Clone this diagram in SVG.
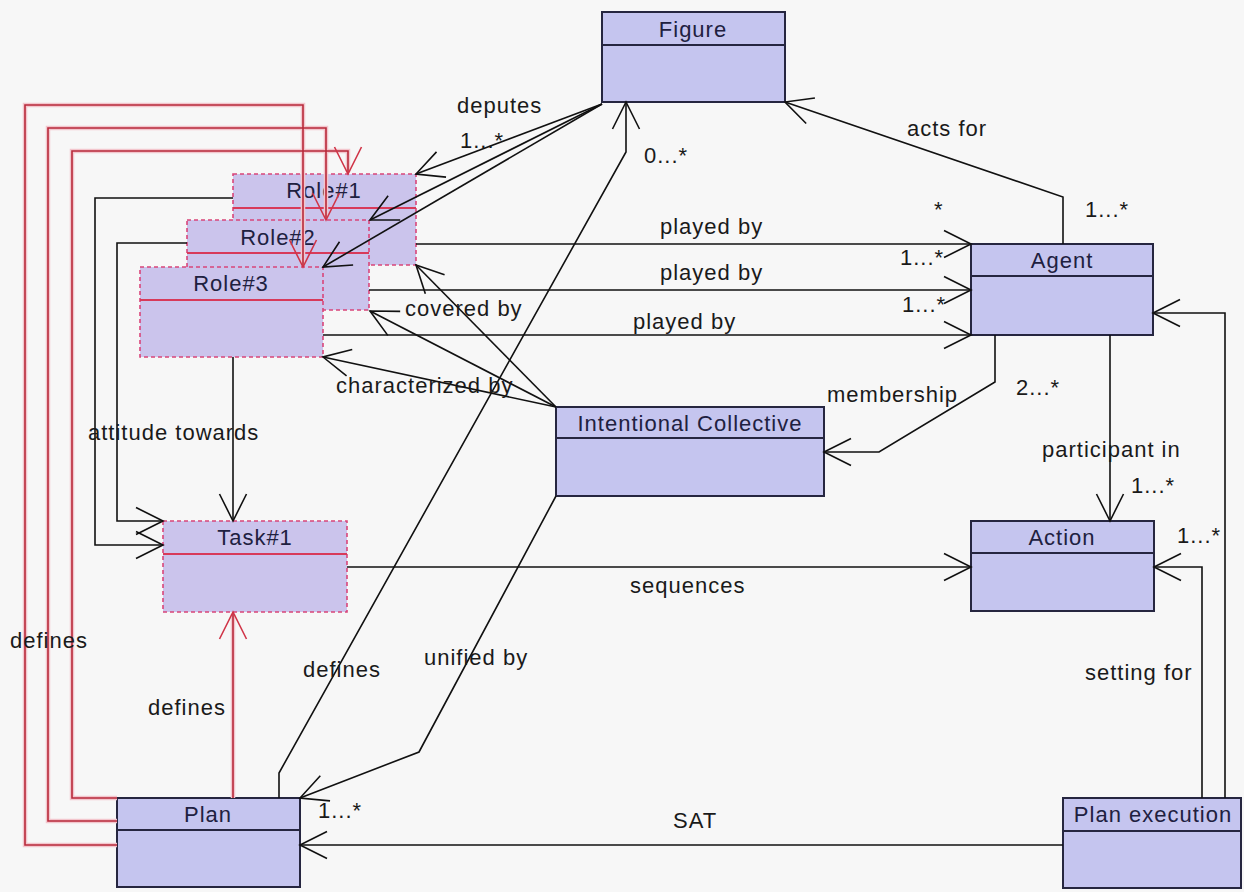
<svg xmlns="http://www.w3.org/2000/svg" width="1244" height="892" viewBox="0 0 1244 892">
<style>
.box{fill:#c5c5ef;stroke:#262640;stroke-width:2}
.div{stroke:#262640;stroke-width:2}
.rbox{fill:#cbc4ec;stroke:#d9457a;stroke-width:1.6;stroke-dasharray:4 3}
.rdiv{stroke:#d83a5a;stroke-width:2}
.name{font-family:"Liberation Sans",Arial,sans-serif;font-size:22px;letter-spacing:1px;fill:#202040;text-anchor:middle}
.lbl{font-family:"Liberation Sans",Arial,sans-serif;font-size:22px;letter-spacing:1px;fill:#1a1a1a}
.c{fill:none;stroke:#111;stroke-width:1.6}
.halo{fill:none;stroke:#f3c6cd;stroke-width:4.5}
.red{fill:none;stroke:#b8283a;stroke-width:1.6}
</style>
<defs>
<marker id="a" markerUnits="userSpaceOnUse" orient="auto" viewBox="-30 -16 32 32" refX="0" refY="0" markerWidth="32" markerHeight="32" overflow="visible">
<path d="M-27,-13.5 L0,0 L-27,13.5" fill="none" stroke="#111" stroke-width="1.6"/>
</marker>
<marker id="ar" markerUnits="userSpaceOnUse" orient="auto" viewBox="-30 -16 32 32" refX="0" refY="0" markerWidth="32" markerHeight="32" overflow="visible">
<path d="M-27,-13.5 L0,0 L-27,13.5" fill="none" stroke="#d03548" stroke-width="1.6"/>
</marker>
</defs>
<rect width="1244" height="892" fill="#f7f7f7"/>

<g id="figure"><rect class="box" x="602" y="12" width="183" height="90"/><line class="div" x1="602" y1="45" x2="785" y2="45"/><text class="name" x="693" y="37">Figure</text></g>
<g id="role1"><rect class="rbox" x="233" y="174" width="183" height="91"/><line class="rdiv" x1="233" y1="208" x2="416" y2="208"/><text class="name" x="324" y="198">Role#1</text></g>
<g id="role2"><rect class="rbox" x="187" y="220" width="182" height="90"/><line class="rdiv" x1="187" y1="253" x2="369" y2="253"/><text class="name" x="278" y="245">Role#2</text></g>
<g id="role3"><rect class="rbox" x="140" y="267" width="183" height="90"/><line class="rdiv" x1="140" y1="300" x2="323" y2="300"/><text class="name" x="231" y="291">Role#3</text></g>
<g id="task1"><rect class="rbox" x="163" y="521" width="184" height="91"/><line class="rdiv" x1="163" y1="554" x2="347" y2="554"/><text class="name" x="255" y="545">Task#1</text></g>
<g id="plan"><rect class="box" x="117" y="798" width="183" height="89"/><line class="div" x1="117" y1="830" x2="300" y2="830"/><text class="name" x="208" y="822">Plan</text></g>
<g id="agent"><rect class="box" x="971" y="244" width="182" height="91"/><line class="div" x1="971" y1="276" x2="1153" y2="276"/><text class="name" x="1062" y="268">Agent</text></g>
<g id="intentional-collective"><rect class="box" x="556" y="407" width="268" height="89"/><line class="div" x1="556" y1="438" x2="824" y2="438"/><text class="name" x="690" y="431">Intentional Collective</text></g>
<g id="action"><rect class="box" x="971" y="521" width="183" height="90"/><line class="div" x1="971" y1="553" x2="1154" y2="553"/><text class="name" x="1062" y="545">Action</text></g>
<g id="plan-execution"><rect class="box" x="1063" y="798" width="178" height="90"/><line class="div" x1="1063" y1="831" x2="1241" y2="831"/><text class="name" x="1153" y="822">Plan execution</text></g>

<g id="connectors">
<g id="red-defines">
<polyline class="halo" points="117,845 25,845 25,105 303,105 303,265"/>
<polyline class="halo" points="117,821 48,821 48,128 326,128 326,218"/>
<polyline class="halo" points="117,798 72,798 72,151 348,151 348,172"/>
<polyline class="halo" points="233,798 233,614"/>
<polyline class="red" points="117,845 25,845 25,105 303,105 303,267" marker-end="url(#ar)"/>
<polyline class="red" points="117,821 48,821 48,128 326,128 326,220" marker-end="url(#ar)"/>
<polyline class="red" points="117,798 72,798 72,151 348,151 348,174" marker-end="url(#ar)"/>
<polyline class="red" points="233,798 233,612" marker-end="url(#ar)"/>
</g>
<line class="c" x1="602" y1="104" x2="416" y2="174" marker-end="url(#a)"/>
<line class="c" x1="602" y1="104" x2="370" y2="220" marker-end="url(#a)"/>
<line class="c" x1="602" y1="104" x2="323" y2="267" marker-end="url(#a)"/>
<polyline class="c" points="233,198 95,198 95,545 163,545" marker-end="url(#a)"/>
<polyline class="c" points="187,243 117,243 117,521 163,521" marker-end="url(#a)"/>
<polyline class="c" points="233,357 233,521" marker-end="url(#a)"/>
<line class="c" x1="416" y1="244" x2="971" y2="244" marker-end="url(#a)"/>
<line class="c" x1="369" y1="290" x2="971" y2="290" marker-end="url(#a)"/>
<line class="c" x1="323" y1="335" x2="971" y2="335" marker-end="url(#a)"/>
<polyline class="c" points="1063,244 1063,197 785,102" marker-end="url(#a)"/>
<polyline class="c" points="995,335 995,382 879,452 824,452" marker-end="url(#a)"/>
<polyline class="c" points="1110,335 1110,521" marker-end="url(#a)"/>
<polyline class="c" points="1225,798 1225,313 1153,313" marker-end="url(#a)"/>
<polyline class="c" points="1202,798 1202,567 1154,567" marker-end="url(#a)"/>
<line class="c" x1="347" y1="567" x2="971" y2="567" marker-end="url(#a)"/>
<line class="c" x1="1063" y1="845" x2="300" y2="845" marker-end="url(#a)"/>
<polyline class="c" points="279,798 279,773 626,152 626,102" marker-end="url(#a)"/>
<polyline class="c" points="556,496 419,752 300,798" marker-end="url(#a)"/>
<line class="c" x1="556" y1="407" x2="416" y2="265" marker-end="url(#a)"/>
<line class="c" x1="556" y1="407" x2="370" y2="311" marker-end="url(#a)"/>
<line class="c" x1="556" y1="407" x2="323" y2="357" marker-end="url(#a)"/>
</g>

<g id="labels">
<text class="lbl" x="457" y="113">deputes</text>
<text class="lbl" x="460" y="148">1...*</text>
<text class="lbl" x="644" y="163">0...*</text>
<text class="lbl" x="907" y="136">acts for</text>
<text class="lbl" x="934" y="217">*</text>
<text class="lbl" x="1085" y="217">1...*</text>
<text class="lbl" x="900" y="265">1...*</text>
<text class="lbl" x="902" y="312">1...*</text>
<text class="lbl" x="660" y="234">played by</text>
<text class="lbl" x="660" y="280">played by</text>
<text class="lbl" x="633" y="329">played by</text>
<text class="lbl" x="405" y="316">covered by</text>
<text class="lbl" x="336" y="393">characterized by</text>
<text class="lbl" x="827" y="402">membership</text>
<text class="lbl" x="1016" y="395">2...*</text>
<text class="lbl" x="1042" y="457">participant in</text>
<text class="lbl" x="1131" y="493">1...*</text>
<text class="lbl" x="1177" y="543">1...*</text>
<text class="lbl" x="88" y="440">attitude towards</text>
<text class="lbl" x="630" y="593">sequences</text>
<text class="lbl" x="1085" y="680">setting for</text>
<text class="lbl" x="10" y="648">defines</text>
<text class="lbl" x="148" y="715">defines</text>
<text class="lbl" x="303" y="677">defines</text>
<text class="lbl" x="424" y="665">unified by</text>
<text class="lbl" x="318" y="818">1...*</text>
<text class="lbl" x="673" y="828">SAT</text>
</g>
</svg>
